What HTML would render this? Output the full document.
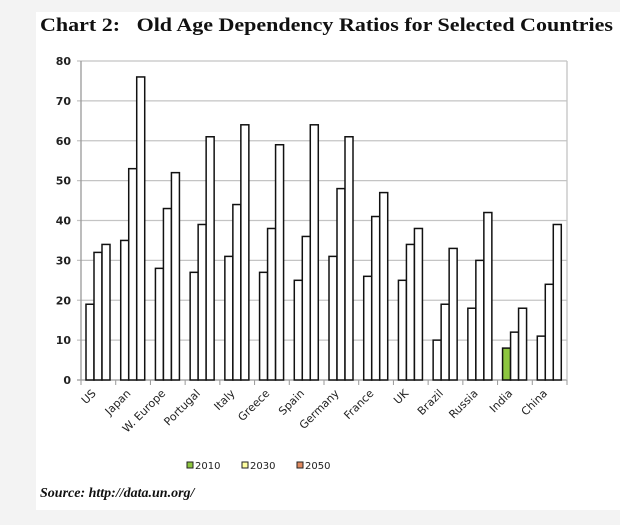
<!DOCTYPE html>
<html><head><meta charset="utf-8"><style>
body{margin:0;background:#f3f3f3;width:620px;height:520px;overflow:hidden}
</style></head><body>
<svg width="620" height="520" xmlns="http://www.w3.org/2000/svg">
<rect x="36" y="12" width="584" height="498" fill="#fff"/>
<text x="40" y="31" font-family="Liberation Serif, serif" font-weight="bold" font-size="19" fill="#111" textLength="573" lengthAdjust="spacingAndGlyphs" xml:space="preserve">Chart 2:   Old Age Dependency Ratios for Selected Countries</text>
<g id="grid"></g>
<g id="bars"></g>
<g id="axes"></g>
<g font-family="DejaVu Sans, sans-serif" font-size="10" fill="#222">
<rect x="187" y="462" width="6" height="6" fill="#8dc63f" stroke="#222"/><text x="195" y="469">2010</text>
<rect x="242" y="462" width="6" height="6" fill="#ffffa0" stroke="#222"/><text x="250" y="469">2030</text>
<rect x="297" y="462" width="6" height="6" fill="#e08a60" stroke="#222"/><text x="305" y="469">2050</text>
</g>
<text x="40" y="497" font-family="Liberation Serif, serif" font-style="italic" font-weight="bold" font-size="14" fill="#111">Source: http://data.un.org/</text>
</svg>
<script>
const categories=["US","Japan","W. Europe","Portugal","Italy","Greece","Spain","Germany","France","UK","Brazil","Russia","India","China"];
const s2010=[19,35,28,27,31,27,25,31,26,25,10,18,8,11];
const s2030=[32,53,43,39,44,38,36,48,41,34,19,30,12,24];
const s2050=[34,76,52,61,64,59,64,61,47,38,33,42,18,39];
const yTicks=[0,10,20,30,40,50,60,70,80];
const NS="http://www.w3.org/2000/svg";
const X0=81,X1=567,Y0=380,Y1=61,YMAX=80;
const cw=(X1-X0)/categories.length;
const y=v=>Y0-(v/YMAX)*(Y0-Y1);
const xc=i=>X0+cw*i;
function mk(t,a,p){const e=document.createElementNS(NS,t);for(const k in a)e.setAttribute(k,a[k]);p.appendChild(e);return e;}
const grid=document.getElementById('grid'),bars=document.getElementById('bars'),axes=document.getElementById('axes');
yTicks.forEach(t=>{
 const l=mk('line',{x1:X0-4,x2:X1,y1:y(t),y2:y(t),stroke:t===0?'#999':'#c4c4c4','stroke-width':1.3},grid);
 
 
 const tx=mk('text',{x:X0-10,y:y(t)+4,'text-anchor':'end','font-family':'DejaVu Sans, sans-serif','font-size':11,'font-weight':'bold',fill:'#222'},axes);
 tx.textContent=t;
 
 
});
const rl=mk('line',{x1:X1,x2:X1,y1:Y1,y2:Y0,stroke:'#c4c4c4','stroke-width':1.3},grid);


const al=mk('line',{x1:X0,x2:X0,y1:Y1,y2:Y0,stroke:'#999','stroke-width':1.3},axes);


const series=[s2010,s2030,s2050];
const bw=8;
categories.forEach((c,i)=>{
 series.forEach((s,j)=>{
  const v=s[i];
  const fill=(j===0&&c==="India")?'#8dc63f':'#fff';
  const r=mk('rect',{x:xc(i)+5+j*bw,y:y(v),width:bw,height:Y0-y(v),fill:fill,stroke:'#111','stroke-width':1.5},bars);
  
  
 });
 const tk=mk('line',{x1:xc(i),x2:xc(i),y1:Y0,y2:Y0+5,stroke:'#999'},axes);
 
 
 const lx=xc(i)+cw*0.45, ly=Y0+14;
 const t=mk('text',{x:lx,y:ly,'text-anchor':'end','font-family':'DejaVu Sans, sans-serif','font-size':11,fill:'#222',transform:`rotate(-45 ${lx} ${ly})`},axes);
 t.textContent=c;
 
 
});
const tk=mk('line',{x1:X1,x2:X1,y1:Y0,y2:Y0+5,stroke:'#999'},axes);


</script>
</body></html>
